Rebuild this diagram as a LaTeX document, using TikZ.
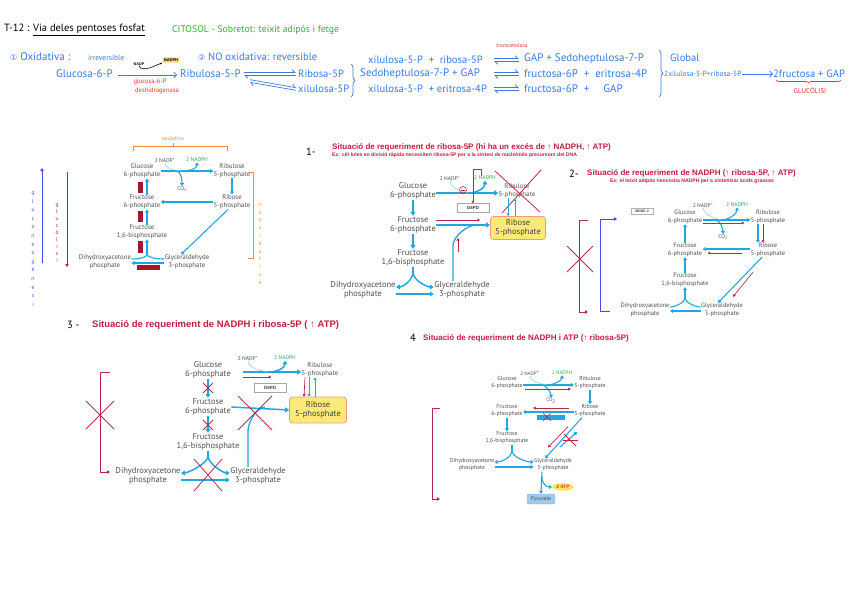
\documentclass[tikz,border=0pt]{standalone}
\usepackage{fontspec}
\setmainfont{PT Sans}
\newfontfamily\arialf{Liberation Sans}
\newfontfamily\dejavu{DejaVu Sans}
\usetikzlibrary{arrows.meta,shapes.geometric,decorations.pathreplacing}
\definecolor{cyanc}{HTML}{22A6E2}
\definecolor{redd}{HTML}{B8284A}
\definecolor{barred}{HTML}{A0182C}
\definecolor{ttlred}{HTML}{C01C40}
\definecolor{handblue}{HTML}{3A78E6}
\definecolor{handgreen}{HTML}{35B035}
\definecolor{handred}{HTML}{EE3030}
\definecolor{orng}{HTML}{F58A3C}
\definecolor{bluev}{HTML}{4848F0}
\definecolor{metgray}{HTML}{505050}
\definecolor{nadphg}{HTML}{2EAA55}
\definecolor{boxfill}{HTML}{FBEA7A}
\definecolor{boxedge}{HTML}{EF9A7A}
\definecolor{pyrfill}{HTML}{9ECBEB}
\definecolor{pyredge}{HTML}{7FB3DD}
\definecolor{atpfill}{HTML}{FFE45C}
\definecolor{ybox}{HTML}{F6D77A}
\newcommand{\eqarr}[2]{%
  \draw[handblue,line width=0.7pt,-{Straight Barb[harpoon,length=3pt]}] ([yshift=1.3pt]#1) -- ([yshift=1.3pt]#2);
  \draw[handblue,line width=0.7pt,-{Straight Barb[harpoon,length=3pt]}] ([yshift=-1.3pt]#2) -- ([yshift=-1.3pt]#1);}
\begin{document}
\begin{tikzpicture}[x=1pt,y=-1pt,
  hb/.style={inner sep=0pt, anchor=west},
  hblack/.style={hb, text=black, font=\fontsize{10.5}{12}\selectfont},
  hgreen/.style={hb, text=handgreen, font=\fontsize{9.7}{11}\selectfont},
  hblue11/.style={hb, text=handblue, font=\fontsize{11}{12}\selectfont},
  hblue10/.style={hb, text=handblue, font=\fontsize{10.6}{12}\selectfont},
  hblue8/.style={hb, text=handblue, font=\fontsize{7.5}{9}\selectfont},
  hred/.style={inner sep=0pt, text=handred, font=\fontsize{6.5}{8}\selectfont},
  met/.style={align=center, text=metgray, inner sep=0.3pt},
  m0/.style={met, font=\fontsize{6.8}{7.8}\selectfont},
  m1/.style={met, font=\fontsize{8.5}{9.6}\selectfont},
  m1s/.style={met, font=\fontsize{6.8}{7.6}\selectfont},
  m2/.style={met, font=\fontsize{6.4}{7.6}\selectfont},
  m4/.style={met, font=\fontsize{5.8}{7}\selectfont},
  cof/.style={met, font=\fontsize{5.5}{6}\selectfont},
  cofg/.style={cof, text=nadphg},
  ttl/.style={inner sep=0pt, anchor=west, text=ttlred, font=\arialf\bfseries\fontsize{8}{9}\selectfont},
  ttlbig/.style={inner sep=0pt, anchor=west, text=ttlred, font=\arialf\bfseries\fontsize{9.5}{10}\selectfont},
  sub/.style={inner sep=0pt, text=ttlred, font=\arialf\bfseries\fontsize{5.1}{6}\selectfont},
  ribbox/.style={m1, text=black!75, draw=boxedge, fill=boxfill, rounded corners=3pt, line width=0.7pt, minimum width=55pt, minimum height=23pt},
  enzbox/.style={draw=gray!70, fill=white, text=black!75, font=\arialf\bfseries\fontsize{4.5}{5}\selectfont, minimum width=32pt, minimum height=9pt, inner sep=1pt},
  modebox/.style={draw=gray!60, fill=white, text=black!75, font=\arialf\bfseries\fontsize{3.5}{4}\selectfont, minimum width=22pt, minimum height=6pt, inner sep=0.8pt},
  pyrbox/.style={fill=pyrfill, draw=pyredge, rounded corners=2pt, text=black!70, font=\fontsize{5.5}{6}\selectfont, minimum width=28pt, minimum height=10pt, inner sep=1pt},
  atpell/.style={ellipse, fill=atpfill, text=handred, font=\arialf\bfseries\fontsize{4.8}{5}\selectfont, inner sep=1pt},
  ca/.style={draw=cyanc, line width=1.5pt, -{Triangle[length=4pt,width=5pt]}},
  cas/.style={draw=cyanc, line width=1.1pt, -{Triangle[length=3pt,width=4pt]}},
  cathin/.style={draw=cyanc, line width=0.8pt, -{Triangle[length=2.5pt,width=3pt]}},
  cline/.style={draw=cyanc, line width=1.3pt},
  clines/.style={draw=cyanc, line width=1.1pt},
  cthin/.style={draw=cyanc!55, line width=0.5pt},
  rarr/.style={draw=redd, line width=0.7pt, -{Triangle[length=2.5pt,width=3pt]}},
  redx/.style={draw=redd, line width=0.8pt},
  rbr/.style={draw=redd, line width=0.9pt},
  bbr/.style={draw=bluev, line width=1pt},
  orl/.style={draw=orng, line width=0.8pt},
  vert/.style={align=center, inner sep=0pt, font=\fontsize{5.5}{7.8}\selectfont},
]
\useasboundingbox (0,0) rectangle (848,599);

%================ HEADER =================
\node[hblack] (t1) at (4,30) {T-12 : \underline{Via deles pentoses fosfat}};
\node[hgreen] (t2) at (172,30) {CITOSOL - Sobretot: teixit adipós i fetge};
\node[hblue11] (o1) at (10,57) {{\dejavu\fontsize{8}{9}\selectfont ①} Oxidativa :};
\node[hblue8] (o2) at (88,58) {irreversible};
\node[hblue10] (o3) at (198,57) {{\dejavu\fontsize{8}{9}\selectfont ②} NO oxidativa: reversible};
\node[hblue11] (g6) at (56,74) {Glucosa-6-P};
\node[hblue11] (rb) at (180,74) {Ribulosa-5-P};
\draw[handblue, line width=0.7pt, -{Straight Barb[length=3pt]}] ([xshift=5pt,yshift=-1pt]g6.east) -- ([xshift=-3pt,yshift=-1pt]rb.west);
\node[inner sep=0pt, font=\arialf\bfseries\fontsize{3.8}{4}\selectfont] (nadp0) at (139,64) {NADP};
\node[fill=ybox, rounded corners=2pt, inner sep=1.3pt, font=\arialf\bfseries\fontsize{4}{4}\selectfont] (nadph0) at (171,60) {NADPH};
\draw[black, line width=0.6pt, -{Stealth[length=2.5pt]}] (nadp0.south) .. controls +(2,8) and +(-6,2) .. (nadph0.south west);
\node[hred] (enz1) at (150,82) {glucosa-6-P};
\node[hred] (enz2) at (157,91) {deshidrogenasa};
\node[hblue10] (ri) at (298,74) {Ribosa-5P};
\node[hblue10] (xi) at (298,89) {xilulosa-5P};
\coordinate (rbe) at ([xshift=3pt]rb.east);
\coordinate (riw) at ([xshift=-2pt]ri.west);
\coordinate (xiw) at ([xshift=-2pt]xi.west);
\coordinate (rbd) at (250,81);
\eqarr{rbe}{riw}
\eqarr{rbd}{xiw}
\draw[handblue, line width=0.7pt, decorate, decoration={brace, amplitude=4pt}] (351,64) -- (351,97);
\node[hblue10] (l1) at (368,60) {xilulosa-5-P \ + \ ribosa-5P};
\node[hblue11] (l2) at (360,74) {Sedoheptulosa-7-P + GAP};
\node[hblue10] (l3) at (368,89) {xilulosa-5-P \ + eritrosa-4P};
\coordinate (q1a) at (494,60); \coordinate (q1b) at (519,60);
\coordinate (q2a) at (494,74); \coordinate (q2b) at (519,74);
\coordinate (q3a) at (494,89); \coordinate (q3b) at (519,89);
\eqarr{q1a}{q1b}
\eqarr{q2a}{q2b}
\eqarr{q3a}{q3b}
\node[hred, font=\fontsize{5.5}{6}\selectfont] (tc) at (512,46) {transcetolasa};
\node[hblue11] (r1) at (524,59) {GAP + Sedoheptulosa-7-P};
\node[hblue11] (r2) at (524,74) {fructosa-6P \ + \ eritrosa-4P};
\node[hblue11] (r3) at (524,89) {fructosa-6P \ + \quad GAP};
\draw[handblue, line width=0.7pt, decorate, decoration={brace, amplitude=4pt}] (659,50) -- (659,97);
\node[hblue10] (gl) at (670,58) {Global};
\node[hblue8] (gs) at (664,74) {2xilulosa-5-P+ribosa-5P};
\node[hblue10] (gp) at (773,74) {2fructosa + GAP};
\draw[handblue, line width=0.7pt, -{Straight Barb[length=3pt]}] (gs.east) -- (gp.west);
\draw[handred, line width=0.7pt, decorate, decoration={brace, amplitude=3pt}] (841,80) -- (776,80);
\node[hred, font=\fontsize{7}{8}\selectfont] (gcl) at (810,90) {GLUCÒLISI};

%================ DIAGRAM 0 =================
\node[m0] (a1) at (142,171) {Glucose\\6-phosphate};
\node[m0] (a2) at (232,171) {Ribulose\\5-phosphate};
\node[m0] (a3) at (142,202) {Fructose\\6-phosphate};
\node[m0] (a4) at (232,202) {Ribose\\5-phosphate};
\node[m0] (a5) at (142,232) {Fructose\\1,6-bisphosphate};
\node[m0] (a6) at (105,262) {Dihydroxyacetone\\phosphate};
\node[m0] (a7) at (187,262) {Glyceraldehyde\\3-phosphate};
\node[cof] (a8) at (165,160) {2 NADP\textsuperscript{+}};
\node[cofg] (a9) at (197,160) {2 NADPH};
\node[cof] (a10) at (182,189) {CO\textsubscript{2}};
\draw[cas] (a1.east) -- (a2.west);
\coordinate (a0m) at (185,171);
\draw[cthin] (a8.south) .. controls +(0,7) and +(-7,0) .. (a0m);
\draw[cas] ([xshift=-3pt]a0m) .. controls +(8,0) and +(0,6) .. (a9.south);
\draw[cas] ([xshift=-9pt]a0m) .. controls +(6,0) and +(0,-4) .. (a10.north);
\fill[barred] (138,182) rectangle (143,193);
\draw[cas] ([xshift=5pt]a3.north) -- ([xshift=5pt]a1.south);
\fill[barred] (138,211) rectangle (143,222);
\draw[cas] ([xshift=5pt]a5.north) -- ([xshift=5pt]a3.south);
\fill[barred] (138,241) rectangle (143,253);
\coordinate (a0f) at (147,254);
\draw[cas] (a0f) -- ([xshift=5pt]a5.south);
\draw[clines] ([yshift=3pt]a6.east) .. controls +(10,0) and +(0,3) .. (a0f);
\draw[clines] ([yshift=3pt]a7.west) .. controls +(-10,0) and +(0,3) .. (a0f);
\draw[cas] ([yshift=-1pt]a7.west) -- ([yshift=-1pt]a6.east);
\fill[barred] (137,265) rectangle (160,270);
\draw[cas] (a2.south) -- (a4.north);
\draw[cas] (a4.west) -- (a3.east);
\draw[cas] ([xshift=-4pt]a4.south) -- ([xshift=-6pt]a7.north);
\draw[orl] (133,151) -- (133,146) -- (227,146) -- (227,151);
\draw[orl] (173,146) -- (173,143);
\node[inner sep=0pt, text=orng, font=\fontsize{5.5}{6}\selectfont] (a11) at (173,139) {oxidativa};
\draw[orl] (248,172) -- (253,172) -- (253,258) -- (248,258);
\node[vert, text=orng] (a12) at (260,244) {n\\o\\o\\x\\i\\d\\a\\t\\i\\v\\a};
\draw[bbr, -{Triangle[length=3pt,width=3.5pt]}] (42,263) -- (42,168);
\node[vert, text=bluev, font=\fontsize{5.5}{8.6}\selectfont] (a13) at (33,249) {g\\l\\u\\c\\o\\n\\e\\o\\g\\è\\n\\e\\s\\i};
\draw[rbr, -{Triangle[length=3pt,width=3.5pt]}] (67,172) -- (67,267);
\node[vert, text=redd, font=\fontsize{5.5}{6.9}\selectfont] (a14) at (57,233) {g\\l\\u\\c\\ò\\l\\i\\s\\i};

%================ DIAGRAM 1 =================
\node[hblack] (b11) at (306,152) {1-};
\node[ttl] (b12) at (332,147) {Situació de requeriment de ribosa-5P (hi ha un excés de ↑ NADPH, ↑ ATP)};
\node[sub, anchor=west] (b13) at (332,155.5) {Ex: cèl·lules en divisió ràpida necessiten ribosa-5P per a la síntesi de nucleòtids precursors del DNA};
\node[m1] (b1) at (413,191) {Glucose\\6-phosphate};
\node[m1s] (b2) at (517,191) {Ribulose\\5-phosphate};
\node[m1] (b3) at (413,225) {Fructose\\6-phosphate};
\node[ribbox] (b4) at (518,228) {Ribose\\5-phosphate};
\node[m1] (b5) at (413,258) {Fructose\\1,6-bisphosphate};
\node[m1] (b6) at (363,290) {Dihydroxyacetone\\phosphate};
\node[m1] (b7) at (462,290) {Glyceraldehyde\\3-phosphate};
\node[cof] (b8) at (450,178) {2 NADP\textsuperscript{+}};
\node[cofg] (b9) at (485,178) {2 NADPH};
\node[enzbox] (b10) at (473,208) {G6PD};
\draw[ca] ([yshift=-2pt]b1.east) -- ([yshift=-2pt]b2.west);
\coordinate (b0m) at (472,193);
\draw[cthin] (b8.south) .. controls +(0,8) and +(-8,0) .. (b0m);
\draw[ca] ([xshift=-4pt]b0m) .. controls +(10,0) and +(0,7) .. (b9.south);
\draw[redd, line width=0.6pt] (463,190) circle (3.5pt);
\draw[redd, line width=0.6pt] (461,190) -- (465,190);
\draw[rarr] ([xshift=-4pt]b9.north) -- ++(0,-6) -| (b10.north);
\draw[redx] (495,171) -- (540,212);
\draw[redx] (541,170) -- (502,213);
\draw[cathin] ([xshift=-9pt]b2.south) -- ([xshift=-10pt]b4.north);
\draw[cathin] ([xshift=-3pt]b4.north) -- ([xshift=-2pt]b2.south);
\draw[rarr] ([yshift=5pt]b3.east) -- ([xshift=-10pt,yshift=8pt]b4.west);
\draw[ca] (b3.east) -- ([yshift=3pt]b4.west);
\draw[cline] ([xshift=-9pt]b7.north) -- ++(0,-35) .. controls +(0,-10) and +(-8,0) .. (476,225);
\draw[rarr] (458,252) -- (458,238);
\draw[ca] (b1.south) -- (b3.north);
\draw[ca] (b3.south) -- (b5.north);
\coordinate (b0f) at (413,272);
\draw[cline] (b5.south) -- (b0f);
\draw[ca] (b0f) .. controls +(0,9) and +(6,0) .. ([yshift=3pt]b6.east);
\draw[ca] (b0f) .. controls +(0,9) and +(-6,0) .. ([yshift=3pt]b7.west);
\draw[ca] ([yshift=-4pt]b6.east) -- ([yshift=-4pt]b7.west);

%================ DIAGRAM 2 =================
\node[hblack] (c12) at (569,174) {2-};
\node[ttl] (c13) at (587,173) {Situació de requeriment de NADPH (↑ ribosa-5P, ↑ ATP)};
\node[sub] (c14) at (692,181.5) {Ex: el teixit adipós necessita NADPH per a sintetitzar àcids grassos};
\node[modebox] (c11) at (642,211) {MODE 2};
\node[m2] (c1) at (685,217) {Glucose\\6-phosphate};
\node[m2] (c2) at (768,217) {Ribulose\\5-phosphate};
\node[m2] (c3) at (685,250) {Fructose\\6-phosphate};
\node[m2] (c4) at (768,250) {Ribose\\5-phosphate};
\node[m2] (c5) at (685,280) {Fructose\\1,6-bisphosphate};
\node[m2] (c6) at (645,310) {Dihydroxyacetone\\phosphate};
\node[m2] (c7) at (722,310) {Glyceraldehyde\\3-phosphate};
\node[cof] (c8) at (703,205) {2 NADP\textsuperscript{+}};
\node[cofg] (c9) at (737,205) {2 NADPH};
\node[cof] (c10) at (723,237) {CO\textsubscript{2}};
\draw[cas] ([yshift=-3pt]c1.east) -- ([yshift=-3pt]c2.west);
\coordinate (c0m) at (724,220);
\draw[cthin] (c8.south) .. controls +(0,7) and +(-7,0) .. (c0m);
\draw[cas] ([xshift=-3pt]c0m) .. controls +(8,0) and +(0,6) .. (c9.south);
\draw[cas] ([xshift=-9pt]c0m) .. controls +(6,0) and +(0,-4) .. (c10.north);
\draw[rarr] ([yshift=-6pt]c1.east) -- ([xshift=-6pt,yshift=-6pt]c2.west);
\draw[cas] ([xshift=-10pt]c2.south) -- ([xshift=-10pt]c4.north);
\draw[rarr] ([xshift=-5pt]c2.south) -- ([xshift=-5pt]c4.north);
\draw[cas] ([yshift=1pt]c4.west) -- ([yshift=1pt]c3.east);
\draw[rarr] ([xshift=-8pt,yshift=-3pt]c4.west) -- ([xshift=5pt,yshift=-3pt]c3.east);
\draw[cas] ([xshift=-6pt]c4.south) -- ([xshift=-4pt]c7.north);
\draw[rarr] ([xshift=-15pt,yshift=-15pt]c4.south) -- ([xshift=11pt,yshift=6pt]c7.north);
\draw[cas] (c3.north) -- (c1.south);
\draw[cas] (c5.north) -- (c3.south);
\coordinate (c0f) at (685,298);
\draw[cas] (c0f) -- (c5.south);
\draw[clines] ([yshift=3pt]c6.east) .. controls +(6,0) and +(0,4) .. (c0f);
\draw[clines] ([yshift=3pt]c7.west) .. controls +(-6,0) and +(0,4) .. (c0f);
\draw[cas] ([yshift=-1pt]c7.west) -- ([yshift=-1pt]c6.east);
\draw[rbr, -{Triangle[length=3pt,width=3.5pt]}] (588,220) -- (579,220) -- (579,312) -- (588,312);
\draw[redx] (567,246) -- (593,272);
\draw[redx] (593,246) -- (567,272);
\draw[bbr, -{Triangle[length=3pt,width=3.5pt]}] (610,311) -- (600,311) -- (600,219) -- (617,219);

%================ DIAGRAM 3 =================
\node[hblack] (d12) at (67,325) {3 -};
\node[ttlbig] (d13) at (92,325) {Situació de requeriment de NADPH i ribosa-5P ( ↑ ATP)};
\node[m1] (d1) at (208,370) {Glucose\\6-phosphate};
\node[m1s] (d2) at (320,370) {Ribulose\\5-phosphate};
\node[m1] (d3) at (208,407) {Fructose\\6-phosphate};
\node[ribbox, minimum width=57pt, minimum height=26pt] (d4) at (318,410) {Ribose\\5-phosphate};
\node[m1] (d5) at (208,442) {Fructose\\1,6-bisphosphate};
\node[m1] (d6) at (148,476) {Dihydroxyacetone\\phosphate};
\node[m1] (d7) at (258,476) {Glyceraldehyde\\3-phosphate};
\node[cof] (d8) at (248,358) {2 NADP\textsuperscript{+}};
\node[cofg] (d9) at (285,358) {2 NADPH};
\node[enzbox] (d10) at (270,388) {G6PD};
\draw[ca] ([xshift=12pt,yshift=-2pt]d1.east) -- ([yshift=-2pt]d2.west);
\coordinate (d0m) at (272,372);
\draw[cthin] (d8.south) .. controls +(0,8) and +(-8,0) .. (d0m);
\draw[ca] ([xshift=-4pt]d0m) .. controls +(10,0) and +(0,7) .. (d9.south);
\draw[rarr] ([xshift=12pt,yshift=-7pt]d1.east) -- ++(28,0);
\draw[rarr] ([xshift=-15pt]d2.south) -- ([xshift=-14pt]d4.north);
\draw[cathin] ([xshift=-11pt]d2.south) -- ([xshift=-9pt]d4.north);
\draw[cathin] ([xshift=-3pt]d4.north) -- ([xshift=-5pt]d2.south);
\draw[ca] (d3.east) -- (d4.west);
\draw[cline] ([xshift=-10pt]d7.north) -- ++(0,-36) .. controls +(0,-9) and +(-8,0) .. (265,407);
\draw[redx] (238,396) -- (272,430);
\draw[redx] (272,396) -- (238,430);
\draw[ca] (d1.south) -- (d3.north);
\draw[redx] (203,383) -- (213,393);
\draw[redx] (213,383) -- (203,393);
\draw[ca] (d3.south) -- (d5.north);
\draw[redx] (203,420) -- (213,430);
\draw[redx] (213,420) -- (203,430);
\coordinate (d0f) at (208,456);
\draw[cline] (d5.south) -- (d0f);
\draw[ca] (d0f) .. controls +(0,8) and +(6,0) .. ([yshift=3pt]d6.east);
\draw[ca] (d0f) .. controls +(0,8) and +(-6,0) .. ([yshift=3pt]d7.west);
\draw[ca] ([yshift=-4pt]d6.east) -- ([yshift=-4pt]d7.west);
\draw[redx] (194,459) -- (222,491);
\draw[redx] (222,459) -- (194,491);
\draw[rbr, -{Triangle[length=3pt,width=3.5pt]}] (110,372) -- (100,372) -- (100,472) -- (110,472);
\draw[redx] (86,401) -- (114,429);
\draw[redx] (114,401) -- (86,429);

%================ DIAGRAM 4 =================
\node[hblack] (e13) at (410,338) {4};
\node[ttl] (e14) at (423,338) {Situació de requeriment de NADPH i ATP (↑ ribosa-5P)};
\node[m4] (e1) at (507,383) {Glucose\\6-phosphate};
\node[m4] (e2) at (590,383) {Ribulose\\5-phosphate};
\node[m4] (e3) at (507,411) {Fructose\\6-phosphate};
\node[m4] (e4) at (590,411) {Ribose\\5-phosphate};
\node[m4] (e5) at (507,438) {Fructose\\1,6-bisphosphate};
\node[m4] (e6) at (472,465) {Dihydroxyacetone\\phosphate};
\node[m4] (e7) at (553,465) {Glyceraldehyde\\3-phosphate};
\node[cof, font=\fontsize{5}{6}\selectfont] (e8) at (530,373) {2 NADP\textsuperscript{+}};
\node[cofg, font=\fontsize{5}{6}\selectfont] (e9) at (562,373) {2 NADPH};
\node[cof, font=\fontsize{5}{6}\selectfont] (e10) at (551,401) {CO\textsubscript{2}};
\node[pyrbox] (e11) at (541,499) {Pyruvate};
\node[atpell] (e12) at (563,487) {2 ATP};
\draw[cas] ([yshift=-2pt]e1.east) -- ([yshift=-2pt]e2.west);
\coordinate (e0m) at (550,385);
\draw[cthin] (e8.south) .. controls +(0,6) and +(-6,0) .. (e0m);
\draw[cas] ([xshift=-3pt]e0m) .. controls +(7,0) and +(0,5) .. (e9.south);
\draw[cas] ([xshift=-8pt]e0m) .. controls +(5,0) and +(0,-4) .. (e10.north);
\draw[rarr] ([xshift=2pt,yshift=-6pt]e1.east) -- ([xshift=-3pt,yshift=-6pt]e2.west);
\draw[cas] (e2.south) -- (e4.north);
\draw[rarr] ([xshift=-5pt,yshift=3pt]e4.west) -- ([xshift=10pt,yshift=3pt]e3.east);
\draw[cas] ([yshift=-1pt]e4.west) -- ([yshift=-1pt]e3.east);
\fill[cyanc] (537,415) rectangle (565,419.5);
\draw[redd, line width=0.6pt] (543,413) -- (551,421);
\draw[redd, line width=0.6pt] (551,413) -- (543,421);
\draw[cas] (e3.south) -- (e5.north);
\coordinate (e0f) at (512,450);
\draw[clines] ([xshift=5pt]e5.south) -- (e0f);
\draw[cas] (e0f) .. controls +(0,8) and +(6,0) .. ([yshift=3pt]e6.east);
\draw[cas] (e0f) .. controls +(0,8) and +(-6,0) .. ([yshift=3pt]e7.west);
\draw[cas] ([yshift=-2pt]e6.east) -- ([yshift=-2pt]e7.west);
\draw[cas] ([xshift=-8pt]e4.south) -- ([xshift=-8pt]e7.north);
\draw[rarr] ([xshift=-22pt,yshift=-9pt]e4.south) -- ([xshift=-5pt,yshift=11pt]e7.north);
\coordinate (e0u) at (560,447);
\draw[cas] (e0u) -- ++(17,-15);
\draw[redx] (564,434) -- (576,446);
\draw[redx] (563,440) -- (578,440);
\draw[cas] ([xshift=-11pt]e7.south) -- (e11.north);
\draw[cas] ([xshift=-11pt,yshift=-5pt]e7.south) .. controls +(0,8) and +(-5,0) .. (e12.west);
\draw[rbr, -{Triangle[length=3pt,width=3.5pt]}] (440,408) -- (432,408) -- (432,499) -- (440,499);
\end{tikzpicture}
\end{document}
